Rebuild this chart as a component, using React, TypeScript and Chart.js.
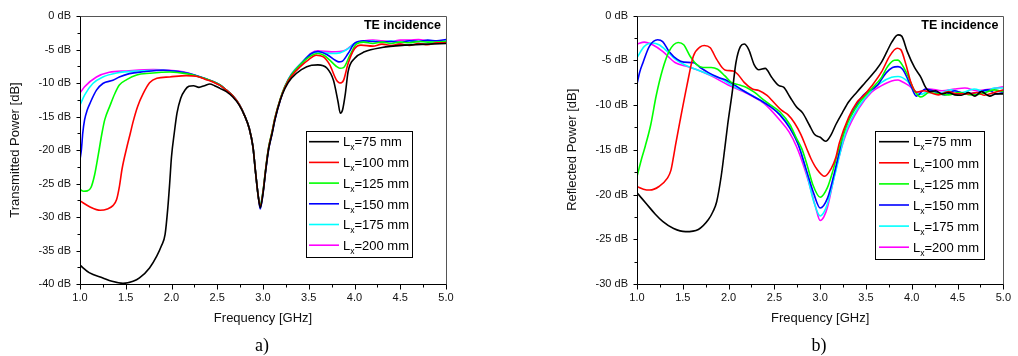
import { useEffect, useRef } from 'react';
import { Chart, registerables } from 'chart.js';

Chart.register(...registerables);

type Pt = [number, number];

// ---------- data ----------
const seriesSizes = [75, 100, 125, 150, 175, 200];
const seriesColors = ['#000000', '#ff0000', '#00ff00', '#0000ff', '#00ffff', '#ff00ff'];
const seriesLabels = seriesSizes.map((s) => `Lx=${s} mm`);

const xTickValues = [1.0, 1.5, 2.0, 2.5, 3.0, 3.5, 4.0, 4.5, 5.0];
const transYTickValues = [0, -5, -10, -15, -20, -25, -30, -35, -40];
const reflYTickValues = [0, -5, -10, -15, -20, -25, -30];

// Transmitted power (a)
const trans75: Pt[] = [[1.0,-37.2],[1.1,-38.3],[1.25,-39.1],[1.35,-39.6],[1.47,-39.9],[1.58,-39.6],[1.65,-39.1],[1.76,-37.6],[1.84,-35.8],[1.89,-34.3],[1.93,-32.6],[1.96,-28.6],[1.98,-25.0],[2.0,-21.0],[2.03,-17.5],[2.06,-14.5],[2.1,-12.3],[2.15,-11.0],[2.19,-10.5],[2.24,-10.4],[2.3,-10.65],[2.36,-10.4],[2.42,-10.15],[2.47,-10.4],[2.53,-10.8],[2.6,-11.3],[2.67,-12.1],[2.74,-13.3],[2.8,-14.9],[2.85,-16.8],[2.89,-19.5],[2.92,-23.5],[2.95,-27.1],[2.97,-28.6],[3.0,-26.5],[3.03,-23.0],[3.06,-20.0],[3.1,-17.5],[3.13,-15.5],[3.19,-12.5],[3.24,-10.8],[3.31,-9.3],[3.42,-8.0],[3.53,-7.35],[3.6,-7.3],[3.7,-7.8],[3.77,-9.6],[3.82,-12.8],[3.845,-14.5],[3.87,-14.0],[3.9,-11.6],[3.93,-8.3],[4.0,-6.35],[4.11,-5.35],[4.3,-4.7],[4.55,-4.35],[4.8,-4.2],[5.0,-4.1]];
const trans100: Pt[] = [[1.0,-27.6],[1.11,-28.5],[1.22,-29.0],[1.3,-28.8],[1.36,-28.3],[1.4,-27.4],[1.43,-25.5],[1.46,-22.8],[1.51,-19.7],[1.55,-17.5],[1.58,-15.8],[1.63,-13.5],[1.69,-11.6],[1.76,-9.97],[1.84,-9.3],[1.98,-9.1],[2.16,-8.9],[2.27,-9.0],[2.38,-9.5],[2.46,-9.9],[2.53,-10.35],[2.6,-11.07],[2.67,-11.9],[2.74,-13.2],[2.8,-14.9],[2.85,-16.8],[2.89,-19.5],[2.92,-23.5],[2.95,-27.1],[2.97,-28.4],[3.0,-26.3],[3.03,-22.8],[3.06,-19.8],[3.1,-17.3],[3.13,-15.3],[3.19,-12.4],[3.24,-10.6],[3.31,-9.0],[3.42,-7.4],[3.5,-6.5],[3.58,-5.85],[3.66,-6.1],[3.73,-7.3],[3.8,-9.5],[3.84,-10.0],[3.88,-9.6],[3.93,-7.1],[4.0,-4.9],[4.07,-4.35],[4.2,-4.5],[4.3,-4.2],[4.4,-4.4],[4.5,-4.2],[4.6,-4.4],[4.7,-4.1],[4.8,-4.3],[4.9,-4.0],[5.0,-4.0]];
const trans125: Pt[] = [[1.0,-25.9],[1.04,-26.15],[1.08,-26.1],[1.12,-25.6],[1.16,-23.7],[1.2,-20.7],[1.24,-17.5],[1.27,-15.5],[1.33,-13.3],[1.38,-11.6],[1.43,-10.3],[1.51,-9.5],[1.62,-8.8],[1.76,-8.55],[1.98,-8.35],[2.16,-8.6],[2.31,-9.1],[2.46,-9.8],[2.53,-10.3],[2.6,-11.07],[2.67,-11.9],[2.74,-13.2],[2.8,-14.9],[2.85,-16.8],[2.89,-19.5],[2.92,-23.5],[2.95,-27.1],[2.97,-28.2],[3.0,-26.2],[3.03,-22.7],[3.06,-19.7],[3.1,-17.2],[3.13,-15.2],[3.19,-12.3],[3.24,-10.5],[3.31,-8.8],[3.42,-7.1],[3.53,-5.9],[3.6,-5.6],[3.67,-5.9],[3.73,-6.6],[3.8,-7.5],[3.84,-7.8],[3.88,-7.7],[3.95,-5.85],[4.02,-4.2],[4.1,-3.9],[4.2,-4.1],[4.3,-3.9],[4.4,-4.1],[4.5,-3.9],[4.6,-4.0],[4.7,-3.8],[4.8,-3.9],[5.0,-3.8]];
const trans150: Pt[] = [[1.0,-21.4],[1.015,-20.0],[1.03,-17.5],[1.05,-15.5],[1.08,-14.0],[1.11,-13.0],[1.18,-11.07],[1.25,-10.07],[1.36,-9.6],[1.43,-9.1],[1.54,-8.6],[1.69,-8.33],[1.91,-8.1],[2.09,-8.33],[2.25,-8.8],[2.38,-9.4],[2.46,-9.8],[2.53,-10.3],[2.6,-11.07],[2.67,-11.9],[2.74,-13.2],[2.8,-14.9],[2.85,-16.8],[2.89,-19.5],[2.92,-23.5],[2.95,-27.1],[2.97,-28.8],[3.0,-26.5],[3.03,-23.0],[3.06,-20.0],[3.1,-17.5],[3.13,-15.5],[3.19,-12.5],[3.24,-10.6],[3.31,-8.8],[3.42,-7.1],[3.53,-5.6],[3.6,-5.3],[3.71,-5.85],[3.79,-6.6],[3.83,-6.85],[3.86,-6.8],[3.93,-5.6],[4.0,-4.1],[4.1,-3.7],[4.2,-3.8],[4.3,-3.9],[4.4,-3.8],[4.5,-4.0],[4.6,-3.7],[4.7,-3.8],[4.8,-3.6],[4.9,-3.7],[5.0,-3.5]];
const trans175: Pt[] = [[1.0,-13.3],[1.05,-11.8],[1.14,-10.07],[1.25,-9.1],[1.4,-8.5],[1.62,-8.2],[1.91,-8.1],[2.1,-8.35],[2.25,-8.8],[2.38,-9.4],[2.46,-9.8],[2.53,-10.3],[2.6,-11.07],[2.67,-11.9],[2.74,-13.2],[2.8,-14.9],[2.85,-16.8],[2.89,-19.5],[2.92,-23.5],[2.95,-27.1],[2.97,-28.0],[3.0,-26.2],[3.03,-22.8],[3.06,-19.8],[3.1,-17.3],[3.13,-15.3],[3.19,-12.4],[3.24,-10.5],[3.31,-8.7],[3.42,-7.0],[3.53,-5.6],[3.6,-5.35],[3.75,-5.6],[3.84,-5.5],[3.93,-4.86],[4.0,-4.1],[4.1,-3.8],[4.2,-3.7],[4.3,-3.9],[4.4,-3.7],[4.5,-3.9],[4.6,-3.7],[4.7,-3.8],[4.8,-3.7],[4.9,-3.8],[5.0,-3.7]];
const trans200: Pt[] = [[1.0,-11.5],[1.05,-10.56],[1.18,-9.1],[1.32,-8.4],[1.51,-8.2],[1.8,-8.0],[1.98,-8.1],[2.13,-8.33],[2.35,-9.3],[2.46,-9.8],[2.53,-10.3],[2.6,-11.07],[2.67,-11.9],[2.74,-13.2],[2.8,-14.9],[2.85,-16.8],[2.89,-19.5],[2.92,-23.5],[2.95,-27.1],[2.97,-28.2],[3.0,-26.3],[3.03,-22.8],[3.06,-19.8],[3.1,-17.3],[3.13,-15.3],[3.19,-12.4],[3.24,-10.5],[3.31,-8.7],[3.42,-7.0],[3.53,-5.5],[3.6,-5.2],[3.75,-5.35],[3.9,-5.1],[4.0,-4.1],[4.11,-3.7],[4.2,-3.6],[4.3,-3.7],[4.4,-3.8],[4.5,-3.6],[4.6,-3.6],[4.7,-3.5],[4.8,-3.7],[4.9,-3.8],[5.0,-3.9]];

// Reflected power (b)
const refl75: Pt[] = [[1.0,-19.8],[1.1,-21.0],[1.2,-22.2],[1.28,-23.0],[1.4,-23.8],[1.53,-24.15],[1.67,-23.9],[1.78,-22.8],[1.83,-21.9],[1.87,-20.8],[1.92,-17.9],[1.96,-14.7],[1.99,-12.2],[2.04,-8.56],[2.08,-5.27],[2.13,-3.44],[2.17,-3.18],[2.22,-3.8],[2.28,-5.5],[2.33,-6.05],[2.40,-5.9],[2.47,-6.9],[2.55,-7.83],[2.60,-8.0],[2.67,-9.1],[2.74,-10.2],[2.81,-10.9],[2.88,-12.2],[2.94,-13.3],[3.0,-13.6],[3.06,-14.05],[3.12,-13.3],[3.17,-12.2],[3.24,-10.9],[3.31,-9.66],[3.40,-8.56],[3.49,-7.5],[3.60,-6.2],[3.67,-5.2],[3.73,-4.0],[3.78,-3.0],[3.85,-2.16],[3.89,-2.3],[3.95,-4.0],[4.03,-5.8],[4.10,-6.9],[4.15,-8.0],[4.20,-8.5],[4.26,-8.4],[4.33,-8.75],[4.40,-8.6],[4.47,-8.86],[4.54,-8.9],[4.62,-8.6],[4.69,-9.0],[4.76,-8.5],[4.85,-9.0],[4.92,-8.75],[5.0,-8.75]];
const refl100: Pt[] = [[1.0,-19.1],[1.07,-19.4],[1.14,-19.5],[1.24,-19.1],[1.33,-18.2],[1.37,-17.3],[1.40,-15.7],[1.42,-14.5],[1.475,-11.5],[1.545,-7.83],[1.615,-4.54],[1.69,-3.5],[1.735,-3.34],[1.80,-3.6],[1.87,-4.9],[1.96,-6.08],[2.05,-6.19],[2.10,-6.55],[2.17,-7.46],[2.26,-8.2],[2.33,-8.38],[2.42,-8.93],[2.49,-9.66],[2.58,-10.6],[2.65,-11.1],[2.72,-12.0],[2.79,-13.3],[2.85,-14.8],[2.90,-16.0],[2.96,-17.1],[3.05,-17.96],[3.12,-17.1],[3.17,-15.9],[3.21,-14.2],[3.31,-11.4],[3.40,-9.7],[3.47,-9.0],[3.56,-7.9],[3.67,-6.3],[3.76,-4.5],[3.84,-3.65],[3.88,-3.8],[3.94,-5.6],[3.99,-7.46],[4.05,-8.56],[4.13,-8.4],[4.20,-8.6],[4.29,-8.86],[4.40,-8.5],[4.49,-8.75],[4.62,-8.75],[4.71,-8.6],[4.79,-8.9],[4.90,-8.6],[5.0,-8.3]];
const refl125: Pt[] = [[1.0,-18.0],[1.05,-16.0],[1.09,-14.6],[1.15,-12.2],[1.21,-8.93],[1.28,-6.0],[1.35,-4.0],[1.40,-3.26],[1.45,-3.0],[1.51,-3.26],[1.58,-4.54],[1.65,-5.45],[1.72,-5.8],[1.81,-5.8],[1.88,-6.0],[1.96,-6.74],[2.03,-7.46],[2.12,-7.76],[2.19,-8.0],[2.28,-8.56],[2.39,-9.48],[2.46,-10.0],[2.56,-10.75],[2.67,-12.2],[2.74,-13.7],[2.80,-14.9],[2.86,-16.8],[2.92,-18.9],[3.0,-20.3],[3.08,-19.2],[3.14,-17.3],[3.19,-15.4],[3.30,-12.0],[3.42,-9.85],[3.56,-8.2],[3.67,-6.9],[3.74,-5.64],[3.81,-5.0],[3.85,-4.98],[3.88,-5.27],[3.95,-6.55],[4.03,-8.4],[4.10,-9.1],[4.19,-8.6],[4.29,-8.75],[4.40,-8.86],[4.51,-8.6],[4.65,-8.86],[4.76,-8.75],[4.90,-8.3],[5.0,-8.5]];
const refl150: Pt[] = [[1.0,-7.65],[1.03,-6.3],[1.065,-5.27],[1.135,-3.44],[1.225,-2.7],[1.28,-2.9],[1.35,-4.0],[1.44,-4.9],[1.51,-5.2],[1.62,-5.27],[1.69,-5.8],[1.78,-6.37],[1.885,-6.9],[1.99,-7.3],[2.10,-8.0],[2.22,-8.75],[2.35,-9.48],[2.46,-10.2],[2.56,-11.1],[2.67,-12.6],[2.76,-14.4],[2.85,-17.3],[2.93,-19.9],[3.0,-21.5],[3.08,-20.4],[3.15,-17.8],[3.2,-15.6],[3.26,-12.9],[3.38,-10.3],[3.47,-8.9],[3.62,-7.83],[3.72,-6.4],[3.79,-5.8],[3.85,-5.7],[3.9,-6.0],[3.99,-7.83],[4.05,-9.0],[4.15,-8.2],[4.26,-8.5],[4.36,-8.86],[4.47,-8.4],[4.58,-8.75],[4.72,-8.6],[4.83,-8.3],[4.93,-8.75],[5.0,-8.6]];
const refl175: Pt[] = [[1.0,-4.7],[1.08,-3.44],[1.17,-3.07],[1.24,-3.26],[1.33,-4.0],[1.42,-4.9],[1.53,-5.56],[1.64,-6.0],[1.78,-6.55],[1.92,-7.1],[2.06,-7.94],[2.21,-8.64],[2.35,-9.48],[2.49,-10.4],[2.60,-11.5],[2.71,-13.1],[2.78,-14.9],[2.86,-17.9],[2.93,-20.8],[3.0,-22.4],[3.04,-22.0],[3.08,-21.0],[3.16,-17.8],[3.28,-13.0],[3.42,-10.2],[3.56,-8.4],[3.67,-7.46],[3.78,-6.9],[3.85,-6.8],[3.95,-7.3],[4.03,-8.4],[4.1,-8.8],[4.2,-8.4],[4.3,-8.7],[4.42,-8.3],[4.55,-8.6],[4.68,-8.2],[4.8,-8.5],[4.9,-8.1],[5.0,-8.1]];
const refl200: Pt[] = [[1.0,-3.2],[1.08,-2.96],[1.17,-3.26],[1.28,-4.0],[1.42,-5.27],[1.53,-5.64],[1.67,-6.1],[1.81,-6.74],[1.99,-7.72],[2.21,-8.75],[2.39,-9.85],[2.56,-11.7],[2.66,-13.0],[2.74,-14.6],[2.82,-16.8],[2.88,-18.8],[2.95,-21.4],[3.0,-22.9],[3.04,-22.5],[3.08,-21.4],[3.17,-17.2],[3.28,-13.3],[3.42,-10.4],[3.56,-8.56],[3.67,-7.83],[3.78,-7.3],[3.85,-7.2],[3.88,-7.3],[3.97,-7.83],[4.06,-8.56],[4.19,-8.2],[4.33,-8.4],[4.47,-8.2],[4.58,-8.1],[4.72,-8.4],[4.86,-8.2],[5.0,-7.95]];

const transSeries = [trans75, trans100, trans125, trans150, trans175, trans200];
const reflSeries = [refl75, refl100, refl125, refl150, refl175, refl200];

// ---------- styling ----------
const FONT = "'Liberation Sans', Arial, sans-serif";
const W = 509;
const H = 356;

const midpoints = (v: number[]) => v.slice(1).map((b, i) => (v[i] + b) / 2);

const framePlugin = {
  id: 'frameTicks',
  afterDraw(chart: any, _args: any, opts: any) {
    const { ctx, chartArea } = chart;
    const { left, right, top, bottom } = chartArea;
    const xs = chart.scales.x;
    const ys = chart.scales.y;
    const L = Math.round(left) + 0.5;
    const R = Math.round(right) + 0.5;
    const T = Math.round(top) + 0.5;
    const B = Math.round(bottom) + 0.5;
    ctx.save();
    ctx.lineWidth = 1;
    // top / right frame
    ctx.strokeStyle = '#555';
    ctx.beginPath();
    ctx.moveTo(L, T);
    ctx.lineTo(R, T);
    ctx.lineTo(R, B);
    ctx.stroke();
    // left / bottom axes
    ctx.strokeStyle = '#000';
    ctx.beginPath();
    ctx.moveTo(L, T);
    ctx.lineTo(L, B);
    ctx.lineTo(R, B);
    ctx.stroke();
    // ticks
    ctx.beginPath();
    const xMaj: number[] = opts.xMajor;
    const yMaj: number[] = opts.yMajor;
    xMaj.forEach((v) => {
      const p = Math.round(xs.getPixelForValue(v)) + 0.5;
      ctx.moveTo(p, B);
      ctx.lineTo(p, B + 5);
    });
    midpoints(xMaj).forEach((v) => {
      const p = Math.round(xs.getPixelForValue(v)) + 0.5;
      ctx.moveTo(p, B);
      ctx.lineTo(p, B + 3);
    });
    yMaj.forEach((v) => {
      const p = Math.round(ys.getPixelForValue(v)) + 0.5;
      ctx.moveTo(L, p);
      ctx.lineTo(L - 4, p);
    });
    midpoints(yMaj).forEach((v) => {
      const p = Math.round(ys.getPixelForValue(v)) + 0.5;
      ctx.moveTo(L, p);
      ctx.lineTo(L - 3, p);
    });
    ctx.stroke();

    // corner label
    ctx.fillStyle = '#000';
    ctx.font = `bold 12.5px ${FONT}`;
    ctx.textAlign = 'right';
    ctx.textBaseline = 'middle';
    ctx.fillText(opts.corner, right - 5, top + 10);

    // legend
    const lg = opts.legend;
    ctx.strokeStyle = '#000';
    ctx.lineWidth = 1;
    ctx.strokeRect(Math.round(lg.x) + 0.5, Math.round(lg.y) + 0.5, lg.w, lg.h);
    chart.data.datasets.forEach((ds: any, i: number) => {
      const cy = lg.firstRow + i * lg.rowH;
      ctx.strokeStyle = ds.borderColor;
      ctx.lineWidth = 1.6;
      ctx.beginPath();
      ctx.moveTo(lg.lineX0, cy);
      ctx.lineTo(lg.lineX1, cy);
      ctx.stroke();
      const label: string = ds.label;
      const base = cy + 4.7;
      ctx.fillStyle = '#000';
      ctx.textAlign = 'left';
      ctx.textBaseline = 'alphabetic';
      ctx.font = `13px ${FONT}`;
      let x = lg.textX;
      ctx.fillText(label.slice(0, 1), x, base);
      x += ctx.measureText(label.slice(0, 1)).width;
      ctx.font = `8.5px ${FONT}`;
      ctx.fillText(label.slice(1, 2), x, base + 4);
      x += ctx.measureText(label.slice(1, 2)).width;
      ctx.font = `13px ${FONT}`;
      ctx.fillText(label.slice(2), x, base);
    });
    ctx.restore();
  },
};

function makeConfig(p: {
  series: Pt[][];
  yMin: number;
  yTicks: number[];
  yTitle: string;
  padding: { left: number; right: number; top: number; bottom: number };
  yTitlePad: number;
  legend: any;
}): any {
  return {
    type: 'line',
    data: {
      datasets: p.series.map((s, i) => ({
        label: seriesLabels[i],
        data: s.map(([x, y]) => ({ x, y })),
        borderColor: seriesColors[i],
        backgroundColor: seriesColors[i],
        borderWidth: 1.6,
        pointRadius: 0,
        fill: false,
        cubicInterpolationMode: 'monotone',
      })),
    },
    options: {
      responsive: false,
      animation: false,
      events: [],
      layout: { padding: p.padding },
      scales: {
        x: {
          type: 'linear',
          min: 1,
          max: 5,
          grid: { display: false, drawTicks: false },
          border: { display: false },
          afterBuildTicks: (s: any) => {
            s.ticks = xTickValues.map((v) => ({ value: v }));
          },
          afterFit: (s: any) => {
            s.height = 42;
          },
          ticks: {
            padding: 7,
            color: '#111',
            font: { family: FONT, size: 11 },
            maxRotation: 0,
            autoSkip: false,
            callback: (v: any) => Number(v).toFixed(1),
          },
          title: {
            display: true,
            text: 'Frequency [GHz]',
            color: '#111',
            font: { family: FONT, size: 13 },
            padding: { top: 0, bottom: 0 },
          },
        },
        y: {
          type: 'linear',
          min: p.yMin,
          max: 0,
          grid: { display: false, drawTicks: false },
          border: { display: false },
          afterBuildTicks: (s: any) => {
            s.ticks = p.yTicks.map((v) => ({ value: v }));
          },
          afterFit: (s: any) => {
            s.width = 80;
          },
          ticks: {
            padding: 9,
            color: '#111',
            font: { family: FONT, size: 11 },
            autoSkip: false,
            callback: (v: any) => `${v} dB`,
          },
          title: {
            display: true,
            text: p.yTitle,
            color: '#111',
            font: { family: FONT, size: 13 },
            padding: { top: p.yTitlePad, bottom: 0 },
          },
        },
      },
      plugins: {
        legend: { display: false },
        tooltip: { enabled: false },
        frameTicks: {
          xMajor: xTickValues,
          yMajor: p.yTicks,
          corner: 'TE incidence',
          legend: p.legend,
        },
      },
    },
    plugins: [framePlugin],
  };
}

function Panel({ config, left }: { config: () => any; left: number }) {
  const ref = useRef<HTMLCanvasElement>(null);
  useEffect(() => {
    const chart = new Chart(ref.current as HTMLCanvasElement, config());
    return () => chart.destroy();
  }, []);
  return (
    <canvas
      ref={ref}
      width={W}
      height={H}
      style={{ position: 'absolute', left, top: 0, width: W, height: H }}
    />
  );
}

const configA = () =>
  makeConfig({
    series: transSeries,
    yMin: -40,
    yTicks: transYTickValues,
    yTitle: 'Transmitted Power [dB]',
    padding: { left: 0, right: 63, top: 16, bottom: 30 },
    yTitlePad: 8,
    legend: { x: 306, y: 131, w: 106, h: 126, firstRow: 141.7, rowH: 20.7, lineX0: 309, lineX1: 339, textX: 343 },
  });

const configB = () =>
  makeConfig({
    series: reflSeries,
    yMin: -30,
    yTicks: reflYTickValues,
    yTitle: 'Reflected Power [dB]',
    padding: { left: 48, right: 7, top: 10, bottom: 30 },
    yTitlePad: 8,
    legend: { x: 366, y: 131, w: 109, h: 128, firstRow: 141.7, rowH: 21.1, lineX0: 370, lineX1: 400, textX: 404 },
  });

const captionStyle: any = {
  position: 'absolute',
  top: 334,
  width: 40,
  textAlign: 'center',
  fontFamily: "'Liberation Serif', 'Times New Roman', serif",
  fontSize: 18,
  lineHeight: '22px',
  color: '#000',
};

export default function App() {
  return (
    <div style={{ position: 'absolute', left: 0, top: 0, width: 1018, height: 356, background: '#fff', overflow: 'hidden' }}>
      <Panel config={configA} left={0} />
      <Panel config={configB} left={509} />
      <div style={{ ...captionStyle, left: 262 - 20 }}>a)</div>
      <div style={{ ...captionStyle, left: 819 - 20 }}>b)</div>
    </div>
  );
}
